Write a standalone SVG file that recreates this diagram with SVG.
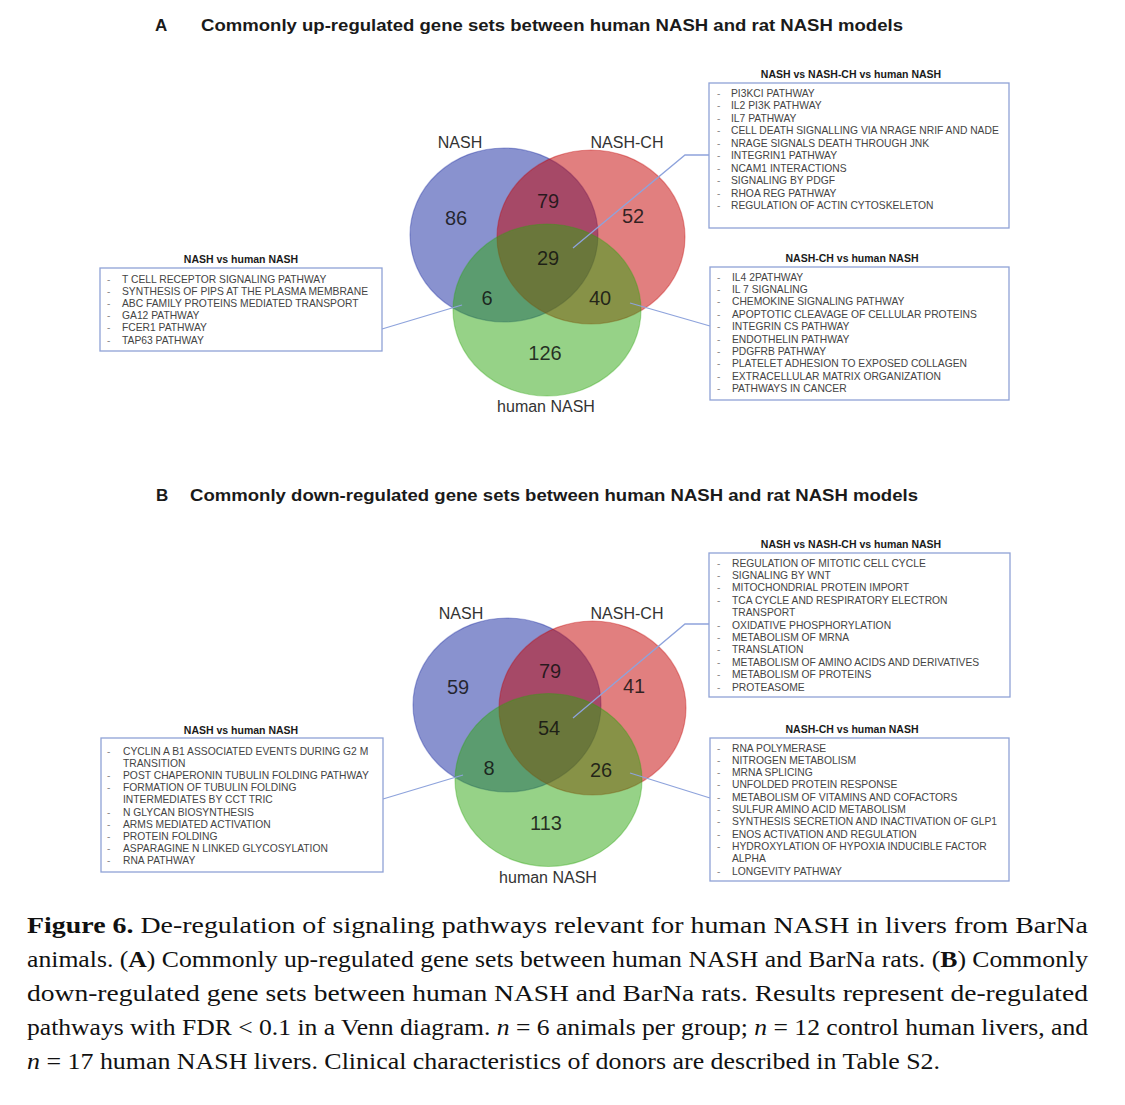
<svg xmlns="http://www.w3.org/2000/svg" width="1125" height="1105" viewBox="0 0 1125 1105">
<style>
.ttl{font-family:"Liberation Sans",Arial,sans-serif;font-weight:bold;font-size:17px;fill:#1a1a1a}
.setlbl{font-family:"Liberation Sans",Arial,sans-serif;font-size:16px;fill:#333;text-anchor:middle}
.num{font-family:"Liberation Sans",Arial,sans-serif;font-size:20px;fill:#111;fill-opacity:0.85;text-anchor:middle}
.bt{font-family:"Liberation Sans",Arial,sans-serif;font-weight:bold;font-size:10.5px;fill:#1a1a1a;text-anchor:middle}
.it{font-family:"Liberation Sans",Arial,sans-serif;font-size:10.3px;fill:#444}
.dash{font-family:"Liberation Sans",Arial,sans-serif;font-size:10px;fill:#888}
.box{fill:#fff;stroke:#8fa2d6;stroke-width:1.3}
.lead{fill:none;stroke:#8ea3dc;stroke-width:1.3}
.cb{fill:#14259f;fill-opacity:0.5;stroke:#14259f;stroke-opacity:0.35;stroke-width:1.2}
.cr{fill:#c30000;fill-opacity:0.5;stroke:#c30000;stroke-opacity:0.35;stroke-width:1.2}
.cg{fill:#2da50f;fill-opacity:0.5;stroke:#2da50f;stroke-opacity:0.35;stroke-width:1.2}
.cap{font-family:"Liberation Serif","Times New Roman",serif;font-size:23px;fill:#111}
</style>
<rect width="1125" height="1105" fill="#fff"/>

<!-- Panel A -->
<g id="titleA">
<text class="ttl" x="155" y="31">A</text>
<text class="ttl" x="201" y="31" textLength="702" lengthAdjust="spacingAndGlyphs">Commonly up-regulated gene sets between human NASH and rat NASH models</text>
</g>
<g id="vennA">
<ellipse class="cb" cx="504" cy="235" rx="94" ry="87"/>
<ellipse class="cr" cx="591" cy="237" rx="94" ry="87"/>
<ellipse class="cg" cx="547" cy="310" rx="94" ry="86"/>
<text class="setlbl" x="460" y="148">NASH</text>
<text class="setlbl" x="627" y="148">NASH-CH</text>
<text class="setlbl" x="546" y="412">human NASH</text>
<text class="num" x="456" y="225">86</text>
<text class="num" x="548" y="208">79</text>
<text class="num" x="633" y="223">52</text>
<text class="num" x="548" y="265">29</text>
<text class="num" x="487" y="305">6</text>
<text class="num" x="600" y="305">40</text>
<text class="num" x="545" y="360">126</text>
</g>
<g id="connectorsA">
<polyline class="lead" points="573,248 685,155 709,155"/>
<line class="lead" x1="382" y1="329" x2="462" y2="305"/>
<line class="lead" x1="630" y1="303" x2="710" y2="326"/>
</g>
<g id="boxA_all">
<text class="bt" x="851" y="78">NASH vs NASH-CH vs human NASH</text>
<rect class="box" x="709" y="83" width="300" height="145"/>
<text class="dash"><tspan x="717" y="96.5">-</tspan><tspan x="717" y="109">-</tspan><tspan x="717" y="121.5">-</tspan><tspan x="717" y="134">-</tspan><tspan x="717" y="146.5">-</tspan><tspan x="717" y="159">-</tspan><tspan x="717" y="171.5">-</tspan><tspan x="717" y="184">-</tspan><tspan x="717" y="196.5">-</tspan><tspan x="717" y="209">-</tspan></text>
<text class="it"><tspan x="731" y="96.5">PI3KCI PATHWAY</tspan><tspan x="731" y="109">IL2 PI3K PATHWAY</tspan><tspan x="731" y="121.5">IL7 PATHWAY</tspan><tspan x="731" y="134">CELL DEATH SIGNALLING VIA NRAGE NRIF AND NADE</tspan><tspan x="731" y="146.5">NRAGE SIGNALS DEATH THROUGH JNK</tspan><tspan x="731" y="159">INTEGRIN1 PATHWAY</tspan><tspan x="731" y="171.5">NCAM1 INTERACTIONS</tspan><tspan x="731" y="184">SIGNALING BY PDGF</tspan><tspan x="731" y="196.5">RHOA REG PATHWAY</tspan><tspan x="731" y="209">REGULATION OF ACTIN CYTOSKELETON</tspan></text>
</g>
<g id="boxA_nash">
<text class="bt" x="241" y="263">NASH vs human NASH</text>
<rect class="box" x="100" y="268" width="282" height="83"/>
<text class="dash"><tspan x="107" y="282.5">-</tspan><tspan x="107" y="294.7">-</tspan><tspan x="107" y="306.9">-</tspan><tspan x="107" y="319.1">-</tspan><tspan x="107" y="331.3">-</tspan><tspan x="107" y="343.5">-</tspan></text>
<text class="it"><tspan x="122" y="282.5">T CELL RECEPTOR SIGNALING PATHWAY</tspan><tspan x="122" y="294.7">SYNTHESIS OF PIPS AT THE PLASMA MEMBRANE</tspan><tspan x="122" y="306.9">ABC FAMILY PROTEINS MEDIATED TRANSPORT</tspan><tspan x="122" y="319.1">GA12 PATHWAY</tspan><tspan x="122" y="331.3">FCER1 PATHWAY</tspan><tspan x="122" y="343.5">TAP63 PATHWAY</tspan></text>
</g>
<g id="boxA_ch">
<text class="bt" x="852" y="262">NASH-CH vs human NASH</text>
<rect class="box" x="710" y="267" width="299" height="133"/>
<text class="dash"><tspan x="717" y="280.5">-</tspan><tspan x="717" y="292.9">-</tspan><tspan x="717" y="305.3">-</tspan><tspan x="717" y="317.7">-</tspan><tspan x="717" y="330.1">-</tspan><tspan x="717" y="342.5">-</tspan><tspan x="717" y="354.9">-</tspan><tspan x="717" y="367.3">-</tspan><tspan x="717" y="379.7">-</tspan><tspan x="717" y="392.1">-</tspan></text>
<text class="it"><tspan x="732" y="280.5">IL4 2PATHWAY</tspan><tspan x="732" y="292.9">IL 7 SIGNALING</tspan><tspan x="732" y="305.3">CHEMOKINE SIGNALING PATHWAY</tspan><tspan x="732" y="317.7">APOPTOTIC CLEAVAGE OF CELLULAR PROTEINS</tspan><tspan x="732" y="330.1">INTEGRIN CS PATHWAY</tspan><tspan x="732" y="342.5">ENDOTHELIN PATHWAY</tspan><tspan x="732" y="354.9">PDGFRB PATHWAY</tspan><tspan x="732" y="367.3">PLATELET ADHESION TO EXPOSED COLLAGEN</tspan><tspan x="732" y="379.7">EXTRACELLULAR MATRIX ORGANIZATION</tspan><tspan x="732" y="392.1">PATHWAYS IN CANCER</tspan></text>
</g>

<!-- Panel B -->
<g id="titleB">
<text class="ttl" x="156" y="501">B</text>
<text class="ttl" x="190" y="501" textLength="728" lengthAdjust="spacingAndGlyphs">Commonly down-regulated gene sets between human NASH and rat NASH models</text>
</g>
<g id="vennB">
<ellipse class="cb" cx="507" cy="705" rx="94" ry="87"/>
<ellipse class="cr" cx="592.5" cy="708" rx="93.5" ry="87"/>
<ellipse class="cg" cx="548.5" cy="780" rx="93.5" ry="86.5"/>
<text class="setlbl" x="461" y="619">NASH</text>
<text class="setlbl" x="627" y="619">NASH-CH</text>
<text class="setlbl" x="548" y="883">human NASH</text>
<text class="num" x="458" y="694">59</text>
<text class="num" x="550" y="678">79</text>
<text class="num" x="634" y="693">41</text>
<text class="num" x="549" y="735">54</text>
<text class="num" x="489" y="775">8</text>
<text class="num" x="601" y="777">26</text>
<text class="num" x="546" y="830">113</text>
</g>
<g id="connectorsB">
<polyline class="lead" points="573,718 685,624 709,624"/>
<line class="lead" x1="383" y1="799" x2="463" y2="775"/>
<line class="lead" x1="630" y1="773" x2="710" y2="798"/>
</g>
<g id="boxB_all">
<text class="bt" x="851" y="548">NASH vs NASH-CH vs human NASH</text>
<rect class="box" x="709" y="553" width="301" height="144"/>
<text class="dash"><tspan x="717" y="566.5">-</tspan><tspan x="717" y="578.9">-</tspan><tspan x="717" y="591.3">-</tspan><tspan x="717" y="603.7">-</tspan><tspan x="717" y="628.5">-</tspan><tspan x="717" y="640.9">-</tspan><tspan x="717" y="653.3">-</tspan><tspan x="717" y="665.7">-</tspan><tspan x="717" y="678.1">-</tspan><tspan x="717" y="690.5">-</tspan></text>
<text class="it"><tspan x="732" y="566.5">REGULATION OF MITOTIC CELL CYCLE</tspan><tspan x="732" y="578.9">SIGNALING BY WNT</tspan><tspan x="732" y="591.3">MITOCHONDRIAL PROTEIN IMPORT</tspan><tspan x="732" y="603.7">TCA CYCLE AND RESPIRATORY ELECTRON</tspan><tspan x="732" y="616.1">TRANSPORT</tspan><tspan x="732" y="628.5">OXIDATIVE PHOSPHORYLATION</tspan><tspan x="732" y="640.9">METABOLISM OF MRNA</tspan><tspan x="732" y="653.3">TRANSLATION</tspan><tspan x="732" y="665.7">METABOLISM OF AMINO ACIDS AND DERIVATIVES</tspan><tspan x="732" y="678.1">METABOLISM OF PROTEINS</tspan><tspan x="732" y="690.5">PROTEASOME</tspan></text>
</g>
<g id="boxB_nash">
<text class="bt" x="241" y="734">NASH vs human NASH</text>
<rect class="box" x="101" y="738" width="282" height="134"/>
<text class="dash"><tspan x="107" y="754.5">-</tspan><tspan x="107" y="778.9">-</tspan><tspan x="107" y="791.1">-</tspan><tspan x="107" y="815.5">-</tspan><tspan x="107" y="827.7">-</tspan><tspan x="107" y="839.9">-</tspan><tspan x="107" y="852.1">-</tspan><tspan x="107" y="864.3">-</tspan></text>
<text class="it"><tspan x="123" y="754.5">CYCLIN A B1 ASSOCIATED EVENTS DURING G2 M</tspan><tspan x="123" y="766.7">TRANSITION</tspan><tspan x="123" y="778.9">POST CHAPERONIN TUBULIN FOLDING PATHWAY</tspan><tspan x="123" y="791.1">FORMATION OF TUBULIN FOLDING</tspan><tspan x="123" y="803.3">INTERMEDIATES BY CCT TRIC</tspan><tspan x="123" y="815.5">N GLYCAN BIOSYNTHESIS</tspan><tspan x="123" y="827.7">ARMS MEDIATED ACTIVATION</tspan><tspan x="123" y="839.9">PROTEIN FOLDING</tspan><tspan x="123" y="852.1">ASPARAGINE N LINKED GLYCOSYLATION</tspan><tspan x="123" y="864.3">RNA PATHWAY</tspan></text>
</g>
<g id="boxB_ch">
<text class="bt" x="852" y="733">NASH-CH vs human NASH</text>
<rect class="box" x="710" y="738" width="299" height="143"/>
<text class="dash"><tspan x="717" y="751.5">-</tspan><tspan x="717" y="763.8">-</tspan><tspan x="717" y="776.1">-</tspan><tspan x="717" y="788.4">-</tspan><tspan x="717" y="800.7">-</tspan><tspan x="717" y="813">-</tspan><tspan x="717" y="825.3">-</tspan><tspan x="717" y="837.6">-</tspan><tspan x="717" y="849.9">-</tspan><tspan x="717" y="874.5">-</tspan></text>
<text class="it"><tspan x="732" y="751.5">RNA POLYMERASE</tspan><tspan x="732" y="763.8">NITROGEN METABOLISM</tspan><tspan x="732" y="776.1">MRNA SPLICING</tspan><tspan x="732" y="788.4">UNFOLDED PROTEIN RESPONSE</tspan><tspan x="732" y="800.7">METABOLISM OF VITAMINS AND COFACTORS</tspan><tspan x="732" y="813">SULFUR AMINO ACID METABOLISM</tspan><tspan x="732" y="825.3">SYNTHESIS SECRETION AND INACTIVATION OF GLP1</tspan><tspan x="732" y="837.6">ENOS ACTIVATION AND REGULATION</tspan><tspan x="732" y="849.9">HYDROXYLATION OF HYPOXIA INDUCIBLE FACTOR</tspan><tspan x="732" y="862.2">ALPHA</tspan><tspan x="732" y="874.5">LONGEVITY PATHWAY</tspan></text>
</g>

<!-- Caption -->
<g id="caption">
<text class="cap" x="27" y="933" textLength="1061" lengthAdjust="spacingAndGlyphs"><tspan font-weight="bold">Figure 6.</tspan>  De-regulation of signaling pathways relevant for human NASH in livers from BarNa</text>
<text class="cap" x="27" y="967" textLength="1061" lengthAdjust="spacingAndGlyphs">animals. (<tspan font-weight="bold">A</tspan>) Commonly up-regulated gene sets between human NASH and BarNa rats. (<tspan font-weight="bold">B</tspan>) Commonly</text>
<text class="cap" x="27" y="1001" textLength="1061" lengthAdjust="spacingAndGlyphs">down-regulated gene sets between human NASH and BarNa rats.  Results represent de-regulated</text>
<text class="cap" x="27" y="1035" textLength="1061" lengthAdjust="spacingAndGlyphs">pathways with FDR &lt; 0.1 in a Venn diagram. <tspan font-style="italic">n</tspan> = 6 animals per group; <tspan font-style="italic">n</tspan> = 12 control human livers, and</text>
<text class="cap" x="27" y="1069" textLength="913" lengthAdjust="spacingAndGlyphs"><tspan font-style="italic">n</tspan> = 17 human NASH livers. Clinical characteristics of donors are described in Table S2.</text>
</g>
</svg>
